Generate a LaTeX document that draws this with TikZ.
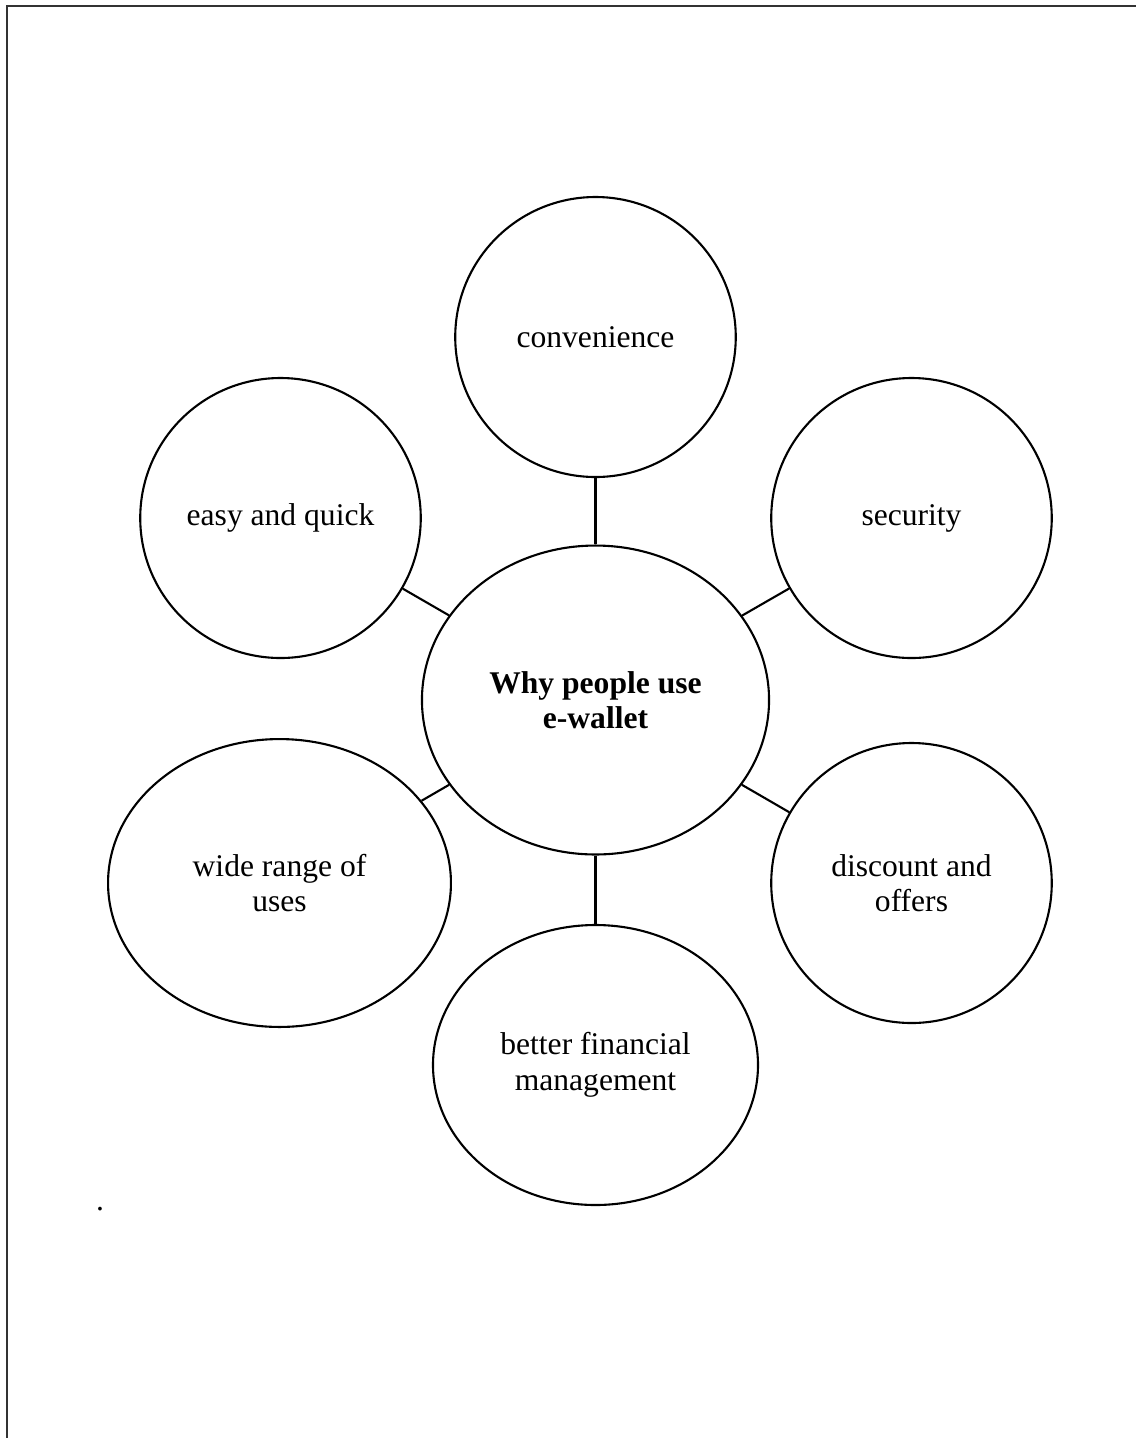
\documentclass[tikz,border=0pt]{standalone}
\usepackage{fontspec}
\setmainfont{Liberation Serif}
\usetikzlibrary{shapes.geometric, positioning}
\tikzset{reason/.style={draw, ellipse, line width=0.8pt, inner sep=0pt, align=center}}
\tikzset{hub/.style={reason, font=\fontsize{12}{13.5}\selectfont\bfseries}}
\tikzset{link/.style={line width=0.8pt}}
\tikzset{frame/.style={line width=0.6pt, draw=black!80}}

\begin{document}
\begin{tikzpicture}[x=0.38pt, y=-0.38pt, font=\fontsize{12}{13.5}\selectfont]
\useasboundingbox (0,0) rectangle (1136,1438);
\draw[frame] (1136,6) -- (7,6) -- (7,1438);

\node[hub, minimum width=131.9pt, minimum height=117.4pt] (why) at (595.5,700) {Why people use\\e-wallet};
\node[reason, minimum width=106.6pt, minimum height=106.4pt] (convenience) at (595.5,337) {convenience};
\node[reason, minimum width=106.6pt, minimum height=106.4pt] (easy) at (280.5,518) {easy and quick};
\node[reason, minimum width=106.6pt, minimum height=106.4pt] (security) at (911.5,518) {security};
\node[reason, minimum width=130.3pt, minimum height=109.4pt] (wide) at (279.5,883) {wide range of\\uses};
\node[reason, minimum width=106.6pt, minimum height=106.4pt] (discount) at (911.5,883) {discount and\\offers};
\node[reason, minimum width=123.5pt, minimum height=106.4pt] (better) at (595.5,1065) {better financial\\management};
\node[anchor=base, inner sep=0pt] (dot) at (100,1210) {.};

\draw[link] (why) -- (convenience);
\draw[link] (why) -- (easy);
\draw[link] (why) -- (security);
\draw[link] (why) -- (wide);
\draw[link] (why) -- (discount);
\draw[link] (why) -- (better);
\end{tikzpicture}
\end{document}
